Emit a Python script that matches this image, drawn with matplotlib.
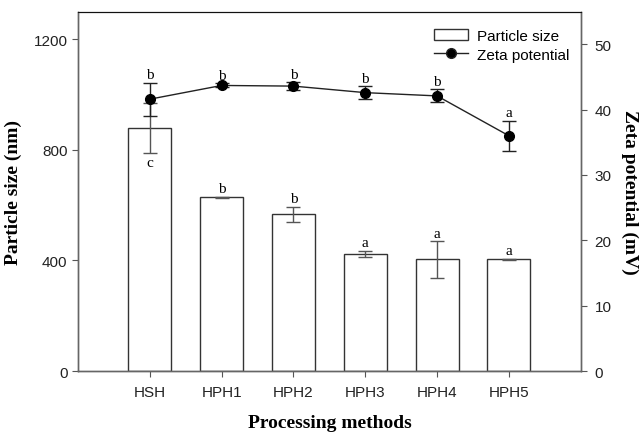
import matplotlib
matplotlib.use("Agg")
import matplotlib.pyplot as plt
import numpy as np
from matplotlib.patches import Patch
from matplotlib.lines import Line2D

categories = ["HSH", "HPH1", "HPH2", "HPH3", "HPH4", "HPH5"]
size_mean = [878, 628, 567, 423, 404, 404]
size_sd = [91, 3, 27, 12, 66, 2]
size_letters = ["c", "b", "b", "a", "a", "a"]
zeta_mean = [41.6, 43.7, 43.6, 42.6, 42.1, 36.0]
zeta_sd = [2.5, 0.3, 0.6, 1.0, 1.0, 2.3]
zeta_letters = ["b", "b", "b", "b", "b", "a"]

sans = "Liberation Sans"
serif = "Liberation Serif"

fig = plt.figure(figsize=(6.41, 4.35), dpi=100)
ax = fig.add_axes([0.1217, 0.1448, 0.7843, 0.8262])
ax2 = ax.twinx()

x = np.arange(len(categories))
edge = "#333333"
ax.bar(x, size_mean, width=0.6, color="white", edgecolor=edge, linewidth=1.0, zorder=2)
ax.errorbar(x, size_mean, yerr=size_sd, fmt="none", ecolor="#555555",
            elinewidth=1.0, capsize=5, capthick=1.0, zorder=3)

ax2.errorbar(x, zeta_mean, yerr=zeta_sd, fmt="none", ecolor="#222222",
             elinewidth=1.0, capsize=5, capthick=1.0, zorder=3)
ax2.plot(x, zeta_mean, color="#222222", linewidth=1.0, marker="o",
         markersize=7, markerfacecolor="black", markeredgecolor="black", zorder=4)

# letters
for i in range(len(categories)):
    if i == 0:
        ax.annotate(size_letters[i], (x[i], size_mean[i] - size_sd[i]),
                    xytext=(0, -2), textcoords="offset points", ha="center", va="top",
                    fontsize=11, family=serif)
    else:
        ax.annotate(size_letters[i], (x[i], size_mean[i] + size_sd[i]),
                    xytext=(0, 1), textcoords="offset points", ha="center", va="bottom",
                    fontsize=11, family=serif)
    ax2.annotate(zeta_letters[i], (x[i], zeta_mean[i] + zeta_sd[i]),
                 xytext=(0, 1), textcoords="offset points", ha="center", va="bottom",
                 fontsize=11, family=serif)

ax.set_xlim(-1, 6)
ax.set_ylim(0, 1300)
ax2.set_ylim(0, 55)
ax.set_xticks(x)
ax.set_xticklabels(categories, family=sans, fontsize=11)
ax.set_yticks([0, 400, 800, 1200])
ax2.set_yticks([0, 10, 20, 30, 40, 50])
for a in (ax, ax2):
    a.tick_params(direction="out", length=4, width=0.8, colors="#555555", labelcolor="#222222",
                  labelsize=11)
    for lab in a.get_yticklabels():
        lab.set_family(sans)
ax.tick_params(axis="x", pad=6)
ax2.tick_params(axis="y", pad=6)
for lab in ax.get_xticklabels():
    lab.set_family(sans)

for a in (ax, ax2):
    for s in ("left", "bottom", "right"):
        a.spines[s].set_color("#666666")
        a.spines[s].set_linewidth(1.0)
    a.spines["top"].set_color("#111111")

ax.set_xlabel("Processing methods", family=serif, fontweight="bold", fontsize=14, labelpad=11)
ax.set_ylabel("Particle size (nm)", family=serif, fontweight="bold", fontsize=14, labelpad=8)
ax2.set_ylabel("Zeta potential (mV)", family=serif, fontweight="bold", fontsize=14,
               rotation=270, labelpad=19)

handles = [Patch(facecolor="white", edgecolor=edge, linewidth=1.0),
           Line2D([0], [0], color="#222222", marker="o", markersize=7,
                  markerfacecolor="black", linewidth=1.0)]
leg = ax2.legend(handles, ["Particle size", "Zeta potential"], loc="upper right",
                 frameon=False, prop={"family": sans, "size": 11},
                 bbox_to_anchor=(1.005, 0.99), handlelength=2.2, handletextpad=0.6,
                 labelspacing=0.3)

fig.savefig("out.png", dpi=100)
